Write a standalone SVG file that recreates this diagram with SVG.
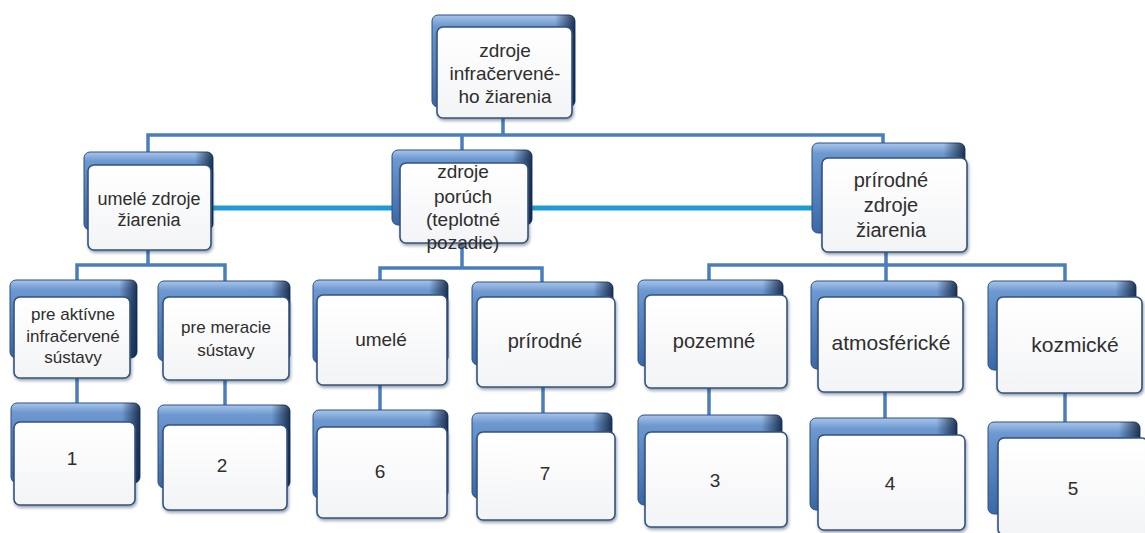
<svg xmlns="http://www.w3.org/2000/svg" width="1145" height="533" viewBox="0 0 1145 533">
<defs>
<linearGradient id="backV" x1="0" y1="0" x2="0" y2="1">
<stop offset="0" stop-color="#a8c5ea"/>
<stop offset="0.12" stop-color="#6d98d0"/>
<stop offset="1" stop-color="#3b69a6"/>
</linearGradient>
<linearGradient id="backH" x1="0" y1="0" x2="1" y2="0">
<stop offset="0" stop-color="#0d1f3a" stop-opacity="0"/>
<stop offset="0.86" stop-color="#0d1f3a" stop-opacity="0"/>
<stop offset="1" stop-color="#0d1f3a" stop-opacity="0.85"/>
</linearGradient>
<linearGradient id="frontG" x1="0" y1="0" x2="0" y2="1">
<stop offset="0" stop-color="#ffffff"/>
<stop offset="1" stop-color="#f3f4f6"/>
</linearGradient>
<filter id="sh" x="-10%" y="-10%" width="125%" height="130%">
<feDropShadow dx="1" dy="2" stdDeviation="1.5" flood-color="#1c2f4d" flood-opacity="0.45"/>
</filter>
</defs>
<style>
.back{fill:url(#backV);stroke:#2a4f88;stroke-width:1}
.edge{fill:url(#backH);stroke:none}
.front{fill:url(#frontG);stroke:#35537f;stroke-width:1.6;filter:url(#sh)}
.t{font-family:"Liberation Sans",Arial,sans-serif;fill:#2e2e2e;text-anchor:middle}
.ln{stroke:#4a7ebb;stroke-width:3.5;fill:none;stroke-linecap:square}
.cy{stroke:#1e9bd7;stroke-width:5;fill:none}
</style>
<rect width="1145" height="533" fill="#ffffff"/>

<g id="connectors">
<path class="ln" d="M503 118V135M148 135H883M148 135V153M883 135V143M462 135V150"/>
<path class="ln" d="M148 250V265M77 265H225M77 265V281M225 265V282"/>
<path class="ln" d="M462 243V268M380 268H542M380 268V281M542 268V283"/>
<path class="ln" d="M886 252V265M709 265H1065M709 265V281M886 265V282M1065 265V283"/>
<path class="ln" d="M77 378V404M225 380V406M380 385V411M543 387V414M709 388V416M885 392V419M1065 393V423"/>
<path class="cy" d="M211 208H400M528 208H822"/>
</g>

<g id="n-top">
<rect class="back" x="432" y="15" width="143" height="92" rx="6"/>
<rect class="edge" x="432" y="15" width="143" height="92" rx="6"/>
<rect class="front" x="437" y="27" width="135" height="91" rx="6"/>
<text class="t" font-size="19" x="505" y="57">zdroje</text>
<text class="t" font-size="19" x="505" y="80">infračervené-</text>
<text class="t" font-size="19" x="505" y="103">ho žiarenia</text>
</g>

<g id="n-umele-zdroje">
<rect class="back" x="84" y="152" width="129" height="78" rx="6"/>
<rect class="edge" x="84" y="152" width="129" height="78" rx="6"/>
<rect class="front" x="88" y="165" width="123" height="85" rx="6"/>
<text class="t" font-size="18" x="149" y="205">umelé zdroje</text>
<text class="t" font-size="18" x="149" y="226">žiarenia</text>
</g>

<g id="n-zdroje-poruch">
<rect class="back" x="392" y="150" width="140" height="75" rx="6"/>
<rect class="edge" x="392" y="150" width="140" height="75" rx="6"/>
<rect class="front" x="400" y="163" width="128" height="80" rx="6"/>
<text class="t" font-size="19" x="463" y="178">zdroje</text>
<text class="t" font-size="19" x="463" y="203">porúch</text>
<text class="t" font-size="19" x="463" y="226">(teplotné</text>
<text class="t" font-size="19" x="463" y="249">pozadie)</text>
</g>

<g id="n-prirodne-zdroje">
<rect class="back" x="812" y="143" width="153" height="90" rx="6"/>
<rect class="edge" x="812" y="143" width="153" height="90" rx="6"/>
<rect class="front" x="822" y="158" width="145" height="94" rx="6"/>
<text class="t" font-size="20" x="891" y="187">prírodné</text>
<text class="t" font-size="20" x="891" y="212">zdroje</text>
<text class="t" font-size="20" x="891" y="237">žiarenia</text>
</g>

<g id="n-pre-aktivne">
<rect class="back" x="10" y="280" width="127" height="78" rx="6"/>
<rect class="edge" x="10" y="280" width="127" height="78" rx="6"/>
<rect class="front" x="14" y="297" width="116" height="81" rx="6"/>
<text class="t" font-size="17" x="73" y="320">pre aktívne</text>
<text class="t" font-size="17" x="73" y="342">infračervené</text>
<text class="t" font-size="17" x="73" y="363">sústavy</text>
</g>

<g id="n-pre-meracie">
<rect class="back" x="158" y="281" width="132" height="80" rx="6"/>
<rect class="edge" x="158" y="281" width="132" height="80" rx="6"/>
<rect class="front" x="163" y="297" width="126" height="83" rx="6"/>
<text class="t" font-size="17" x="226" y="333">pre meracie</text>
<text class="t" font-size="17" x="226" y="356">sústavy</text>
</g>

<g id="n-umele">
<rect class="back" x="313" y="280" width="135" height="83" rx="6"/>
<rect class="edge" x="313" y="280" width="135" height="83" rx="6"/>
<rect class="front" x="317" y="295" width="130" height="90" rx="6"/>
<text class="t" font-size="19" x="381" y="346">umelé</text>
</g>

<g id="n-prirodne">
<rect class="back" x="472" y="282" width="141" height="83" rx="6"/>
<rect class="edge" x="472" y="282" width="141" height="83" rx="6"/>
<rect class="front" x="477" y="297" width="138" height="90" rx="6"/>
<text class="t" font-size="20" x="545" y="348">prírodné</text>
</g>

<g id="n-pozemne">
<rect class="back" x="638" y="280" width="145" height="86" rx="6"/>
<rect class="edge" x="638" y="280" width="145" height="86" rx="6"/>
<rect class="front" x="645" y="295" width="142" height="93" rx="6"/>
<text class="t" font-size="20" x="714" y="348">pozemné</text>
</g>

<g id="n-atmosfericke">
<rect class="back" x="811" y="281" width="146" height="88" rx="6"/>
<rect class="edge" x="811" y="281" width="146" height="88" rx="6"/>
<rect class="front" x="818" y="297" width="145" height="95" rx="6"/>
<text class="t" font-size="21" x="891" y="350">atmosférické</text>
</g>

<g id="n-kozmicke">
<rect class="back" x="988" y="281" width="148" height="89" rx="6"/>
<rect class="edge" x="988" y="281" width="148" height="89" rx="6"/>
<rect class="front" x="997" y="297" width="145" height="96" rx="6"/>
<text class="t" font-size="21" x="1075" y="352">kozmické</text>
</g>

<g id="n-1">
<rect class="back" x="11" y="403" width="129" height="80" rx="6"/>
<rect class="edge" x="11" y="403" width="129" height="80" rx="6"/>
<rect class="front" x="14" y="422" width="121" height="83" rx="6"/>
<text class="t" font-size="19" x="72" y="465">1</text>
</g>

<g id="n-2">
<rect class="back" x="158" y="405" width="132" height="83" rx="6"/>
<rect class="edge" x="158" y="405" width="132" height="83" rx="6"/>
<rect class="front" x="163" y="425" width="124" height="85" rx="6"/>
<text class="t" font-size="19" x="222" y="472">2</text>
</g>

<g id="n-6">
<rect class="back" x="313" y="410" width="135" height="88" rx="6"/>
<rect class="edge" x="313" y="410" width="135" height="88" rx="6"/>
<rect class="front" x="317" y="427" width="130" height="91" rx="6"/>
<text class="t" font-size="19" x="380" y="478">6</text>
</g>

<g id="n-7">
<rect class="back" x="472" y="413" width="140" height="85" rx="6"/>
<rect class="edge" x="472" y="413" width="140" height="85" rx="6"/>
<rect class="front" x="477" y="432" width="138" height="88" rx="6"/>
<text class="t" font-size="19" x="545" y="480">7</text>
</g>

<g id="n-3">
<rect class="back" x="638" y="415" width="144" height="90" rx="6"/>
<rect class="edge" x="638" y="415" width="144" height="90" rx="6"/>
<rect class="front" x="645" y="432" width="142" height="95" rx="6"/>
<text class="t" font-size="19" x="715" y="487">3</text>
</g>

<g id="n-4">
<rect class="back" x="810" y="418" width="147" height="92" rx="6"/>
<rect class="edge" x="810" y="418" width="147" height="92" rx="6"/>
<rect class="front" x="818" y="435" width="147" height="95" rx="6"/>
<text class="t" font-size="19" x="890" y="490">4</text>
</g>

<g id="n-5">
<rect class="back" x="988" y="422" width="152" height="92" rx="6"/>
<rect class="edge" x="988" y="422" width="152" height="92" rx="6"/>
<rect class="front" x="998" y="438" width="150" height="97" rx="6"/>
<text class="t" font-size="19" x="1073" y="495">5</text>
</g>
</svg>
